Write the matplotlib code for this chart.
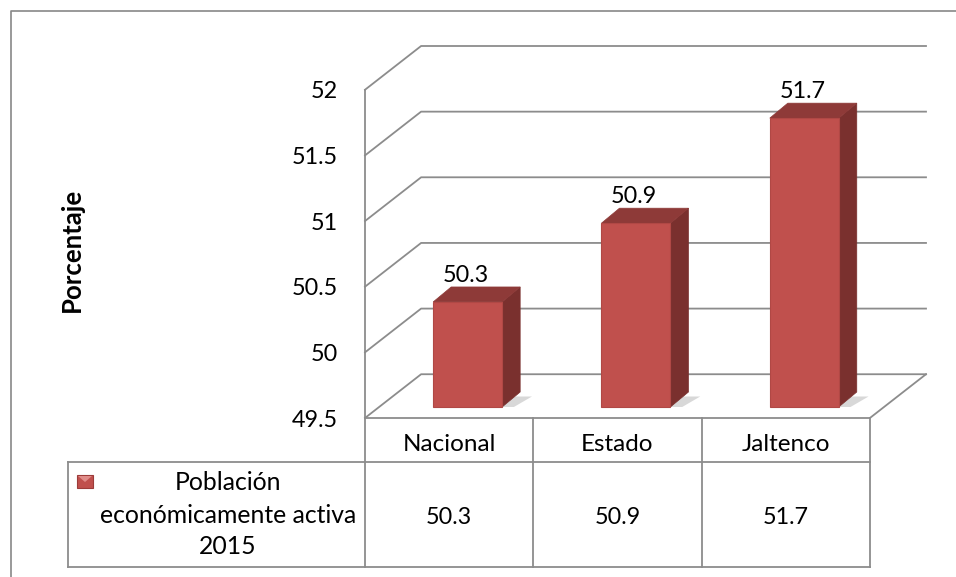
import matplotlib.pyplot as plt
from matplotlib.patches import Polygon, Rectangle
from matplotlib.transforms import blended_transform_factory

# data
categories = ['Nacional', 'Estado', 'Jaltenco']
values = [50.3, 50.9, 51.7]
series_name = ['Población', 'económicamente activa', '2015']
y_ticks = [49.5, 50, 50.5, 51, 51.5, 52]
y_label = 'Porcentaje'

plt.rcParams['font.family'] = ['Lato', 'DejaVu Sans']
FS = 16.8
GRID = '#8c8c8c'
FRONT = '#c0504d'
SIDE = '#7a302e'
TOP = '#8e3a38'

W, H = 956, 577
fig = plt.figure(figsize=(W / 100, H / 100), dpi=100)

# overlay in pixel coords for frame / table
pax = fig.add_axes([0, 0, 1, 1], zorder=0)
pax.set_xlim(0, W)
pax.set_ylim(H, 0)
pax.axis('off')

# oblique 3D depth, in data units of both axes
D = 1 / 3
y0 = y_ticks[0]
ax = fig.add_axes([365 / W, (H - 418) / H, 561 / W, 372 / H], zorder=1)
ax.set_xlim(-0.5, len(categories) - 0.5 + D)
ax.set_ylim(y0, y_ticks[-1] + D)
ax.patch.set_alpha(0)
for s in ax.spines.values():
    s.set_visible(False)
ax.set_xticks([])
ax.set_yticks(y_ticks)
ax.set_yticklabels([f'{t:g}' for t in y_ticks], fontsize=FS)
ax.tick_params(axis='y', length=0, pad=19.5)

xl = -0.5
xr = len(categories) - 0.5
# walls: gridlines on side and back wall
for t in y_ticks:
    ax.plot([xl, xl + D, xr + D], [t, t + D, t + D], color=GRID, lw=1.3,
            clip_on=False, zorder=1)
ax.plot([xl, xl], [y0, y_ticks[-1]], color=GRID, lw=1.3, clip_on=False, zorder=1)
# floor
ax.plot([xl, xr, xr + D], [y0, y0, y0 + D], color=GRID, lw=1.3, clip_on=False, zorder=1)

# bars
off = 0.11      # front face shift into depth (x)
off_y = 0.084   # front face shift into depth (y)
half = 0.205
sx, sy = 0.107, 0.114
for i, v in enumerate(values):
    x0, x1 = i + off - half, i + off + half
    b, t = y0 + off_y, v + off_y
    shadow = Polygon([(x0 + 0.03, b), (x1 + 0.07, b), (x1 + sx + 0.07, b + sy * 0.7),
                      (x0 + sx, b + sy * 0.7)], closed=True, color='#c8c8c8',
                     alpha=0.7, lw=0, zorder=2)
    ax.add_patch(shadow)
    ax.add_patch(Polygon([(x1, b), (x1 + sx, b + sy), (x1 + sx, t + sy), (x1, t)],
                         closed=True, facecolor=SIDE, edgecolor=SIDE, lw=0.5, zorder=3))
    ax.add_patch(Polygon([(x0, t), (x1, t), (x1 + sx, t + sy), (x0 + sx, t + sy)],
                         closed=True, facecolor=TOP, edgecolor=TOP, lw=0.5, zorder=3))
    ax.add_patch(Rectangle((x0, b), x1 - x0, t - b, facecolor=FRONT,
                           edgecolor='#b04845', lw=0.8, zorder=4))
    ax.text(i + off - 0.012, t + sy + 0.04, f'{v}', ha='center', va='baseline',
            fontsize=FS, zorder=5)

# y label
pax.text(72, 250, y_label, rotation=90, ha='center', va='center',
         fontsize=18.5, fontweight='bold')

# outer frame (cut off at right/bottom)
pax.plot([11, 11, W], [H, 11, 11], color='#878787', lw=1.2)

# data table
fig.canvas.draw()
def px(x):
    return pax.transData.inverted().transform(ax.transData.transform((x, y0)))[0]

cols = [px(xl + k) for k in range(len(categories) + 1)]
top_h, mid_h, bot_h = 418, 462, 567
leg_l = 68
for c in cols:
    pax.plot([c, c], [top_h, bot_h], color=GRID, lw=1.3)
pax.plot([leg_l, leg_l], [mid_h, bot_h], color=GRID, lw=1.3)
pax.plot([leg_l, cols[-1]], [mid_h, mid_h], color=GRID, lw=1.3)
pax.plot([leg_l, cols[-1]], [bot_h, bot_h], color=GRID, lw=1.3)

trans = blended_transform_factory(ax.transData, pax.transData)
for i, (c, v) in enumerate(zip(categories, values)):
    ax.text(i, 451, c, transform=trans, ha='center', va='baseline', fontsize=17.5)
    ax.text(i, 524, f'{v}', transform=trans, ha='center', va='baseline', fontsize=FS)

# legend key
pax.add_patch(Rectangle((77, 475), 16, 13, facecolor=FRONT, edgecolor='#9c3c3a', lw=0.8))
pax.add_patch(Polygon([(78, 476), (92, 476), (85, 482)], closed=True,
                      facecolor='#e08c89', lw=0))
for line, yb in zip(series_name, [490, 523, 554]):
    pax.text(228, yb, line, ha='center', va='baseline', fontsize=17.8)

fig.savefig('out.png', dpi=100)
